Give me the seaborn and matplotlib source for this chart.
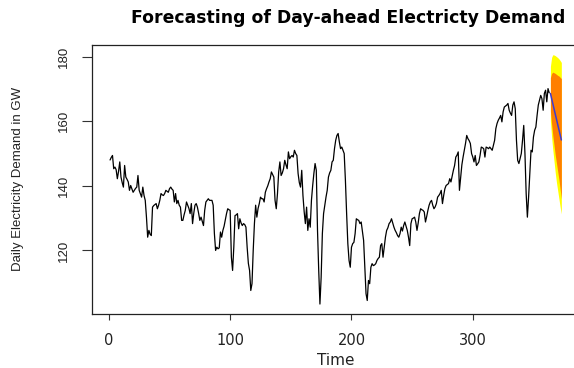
import matplotlib
matplotlib.use("Agg")
import matplotlib.pyplot as plt
import numpy as np
import pandas as pd
import seaborn as sns

# Daily electricity demand (GW), one value per day starting at day 1
demand = [
    148.0, 148.8, 149.4, 145.3, 145.8, 145.0, 142.2, 144.5, 147.4, 142.7,
    141.0, 139.6, 146.3, 142.7, 142.0, 141.2, 138.6, 140.1, 139.0, 138.0,
    138.6, 139.2, 139.6, 143.2, 138.6, 137.5, 136.5, 139.6, 137.0, 135.5,
    130.3, 124.1, 126.2, 125.0, 124.6, 133.4, 133.9, 134.2, 134.5, 132.9,
    134.0, 135.5,
    137.6, 137.2, 137.0, 137.6, 138.6, 138.3, 138.0, 139.1, 139.6, 139.0,
    138.6, 135.0, 137.6, 134.5, 135.5, 134.0, 133.4, 129.3, 129.3, 131.0,
    132.4, 135.0, 134.0, 133.0, 131.4, 134.5, 128.3, 131.5, 134.0, 134.5,
    133.4, 131.5, 129.3, 130.3, 129.0, 127.7, 132.4, 135.0, 135.5, 136.0,
    135.5, 135.5, 135.5, 134.0, 125.2, 120.0, 121.0, 120.5, 120.8, 125.7,
    124.1, 126.2, 127.5, 129.5, 131.4, 132.9, 132.6, 132.4, 117.9, 113.8,
    121.0, 130.8, 131.0, 131.4, 126.7, 129.8, 128.5, 127.7, 128.3, 128.0,
    127.2, 121.0, 116.0, 113.8, 107.6, 109.7, 120.0, 128.3, 134.0, 130.3,
    133.0, 134.5, 136.5, 136.0, 136.0, 135.0, 138.0, 139.1, 140.0, 141.2,
    142.2, 144.3, 143.5, 142.7, 135.5, 132.9, 137.6, 144.3, 147.4,
    143.2, 144.0, 145.3, 147.9, 146.5, 145.3, 150.5, 148.4, 149.0, 149.4,
    148.9, 151.0, 150.0, 149.4, 143.8, 141.0, 139.6, 144.8, 137.0, 132.0,
    128.3, 133.4, 126.2, 129.8, 127.2, 135.5, 140.0, 143.8, 146.9, 144.8,
    126.2, 113.8, 103.4, 111.7, 125.2, 131.4, 134.0, 136.5, 138.6, 142.7,
    144.0, 144.8, 147.4, 147.9, 151.5, 154.1, 155.6, 156.2, 153.6, 151.5,
    152.0, 151.0, 150.0, 141.7, 131.4, 122.1, 116.9, 114.8, 121.0, 122.1,
    122.5, 125.2, 129.8, 129.5, 129.3, 128.3, 128.8, 126.0, 123.1, 114.8,
    106.6, 104.5, 110.7, 109.7, 114.8, 115.9, 115.3, 115.5, 115.9, 116.9,
    117.5, 117.9, 121.5, 122.1, 117.9, 121.0, 124.1, 126.2, 127.0, 128.3,
    128.8, 129.8, 128.5, 127.2, 126.2, 125.5, 124.6, 124.1, 125.2, 127.2,
    126.0, 127.7, 128.8, 127.5, 126.2, 124.1, 121.5, 128.3, 129.8, 130.0,
    130.3, 128.8, 126.2, 128.5, 131.4, 132.9, 132.6, 132.4, 131.9, 128.8,
    130.5, 132.4, 134.0, 135.0, 135.5, 134.0, 132.9, 133.5, 134.5, 136.5,
    137.0, 137.6, 138.6, 134.5, 137.0, 139.1, 140.1, 140.4, 140.7, 142.2,
    141.2, 143.0, 144.8, 146.3, 148.9, 149.5, 150.5, 138.6, 142.7,
    146.5, 148.9, 151.0, 153.1, 155.6, 154.6, 154.0, 153.1, 150.0, 148.9,
    147.4, 149.4, 146.3, 146.8, 147.4, 149.4, 152.0, 151.8, 151.5, 148.9,
    152.0, 151.8, 151.5, 152.0, 151.5, 151.0, 152.5, 154.1, 157.7, 159.3,
    160.3, 161.0, 161.8, 159.8, 162.9, 164.4, 164.7, 165.0, 165.5, 163.4,
    162.5, 161.8, 165.0, 166.0, 163.9,
    154.1, 147.9, 146.9, 148.4, 150.0, 154.1, 158.7, 150.0, 137.6, 130.3,
    136.5, 143.8, 151.0, 150.5, 155.1, 157.2, 158.2, 161.8, 165.0, 166.5,
    168.0, 167.0, 163.4, 168.6, 169.6, 166.0, 170.1, 168.8,
]

# Point forecast and prediction intervals for the following days
fc_mean = [168.6, 167.0, 165.4, 163.8, 162.2, 160.6, 159.0, 157.4, 155.8, 154.2]
fc_lo80 = [163.0, 159.0, 155.5, 152.5, 149.5, 147.0, 144.5, 142.0, 139.0, 136.0]
fc_hi80 = [173.5, 174.8, 175.2, 175.0, 174.8, 174.5, 174.2, 174.0, 173.6, 173.2]
fc_lo95 = [160.0, 155.0, 151.0, 147.5, 144.0, 141.0, 138.5, 136.0, 133.5, 131.3]
fc_hi95 = [177.0, 179.8, 180.6, 180.5, 180.3, 180.0, 179.7, 179.3, 178.8, 178.2]

x_ticks = [0, 100, 200, 300]
y_ticks = [120, 140, 160, 180]

title = "Forecasting of Day-ahead Electricty Demand"
x_label = "Time"
y_label = "Daily Electricity Demand in GW"

sns.set_theme(style="white")
plt.rcParams["font.family"] = ["DejaVu Sans"]
narrow = ["Liberation Sans Narrow", "Liberation Sans"]

n_obs = len(demand)
obs = pd.DataFrame({"day": np.arange(1, n_obs + 1), "demand": demand})
fc = pd.DataFrame({
    "day": np.arange(n_obs + 1, n_obs + 1 + len(fc_mean)),
    "mean": fc_mean, "lo80": fc_lo80, "hi80": fc_hi80,
    "lo95": fc_lo95, "hi95": fc_hi95,
})

fig = plt.figure(figsize=(5.74, 3.68), dpi=100)
ax = fig.add_axes([0.1603, 0.1467, 0.8491, 0.7318])

# prediction bands, widest first
ax.fill_between(fc["day"], fc["lo95"], fc["hi95"], color="#FFFF00", lw=0, zorder=1)
ax.fill_between(fc["day"], fc["lo80"], fc["hi80"], color="#FF7F00", lw=0, zorder=2)

sns.lineplot(data=obs, x="day", y="demand", color="black", lw=0.9, ax=ax, zorder=3)
sns.lineplot(data=fc, x="day", y="mean", color="#3C3CD2", lw=1.1, ax=ax, zorder=4)

# axis ranges with 4% padding around the data
x_min, x_max = 1, fc["day"].max()
y_min = min(min(demand), min(fc_lo95))
y_max = max(max(demand), max(fc_hi95))
xpad = 0.04 * (x_max - x_min)
ypad = 0.04 * (y_max - y_min)
ax.set_xlim(x_min - xpad, x_max + xpad)
ax.set_ylim(y_min - ypad, y_max + ypad)

ax.set_xticks(x_ticks)
ax.set_yticks(y_ticks)
ax.set_xticklabels([str(v) for v in x_ticks], fontsize=10.5)
ax.set_yticklabels([str(v) for v in y_ticks], fontsize=9.5, rotation=90,
                   va="center", family=narrow)
ax.tick_params(axis="x", direction="out", length=4.3, width=0.8, pad=9.5,
               color="#333333", labelcolor="#222222")
ax.tick_params(axis="y", direction="out", length=7.2, width=0.8, pad=9,
               color="#333333", labelcolor="#222222")
ax.tick_params(bottom=True, left=True)

for sp in ax.spines.values():
    sp.set_visible(True)
    sp.set_color("#222222")
    sp.set_linewidth(0.9)

ax.set_xlabel(x_label, fontsize=11, color="#222222", va="center")
ax.xaxis.set_label_coords(0.5, -0.171)
ax.set_ylabel(y_label, fontsize=9.5, color="#222222", va="center", family=narrow)
ax.yaxis.set_label_coords(-0.152, 0.5)
fig.text(0.606, 0.951, title, fontsize=12.4, fontweight="bold", color="black",
         ha="center", va="center")

fig.savefig("out.png", dpi=100)
